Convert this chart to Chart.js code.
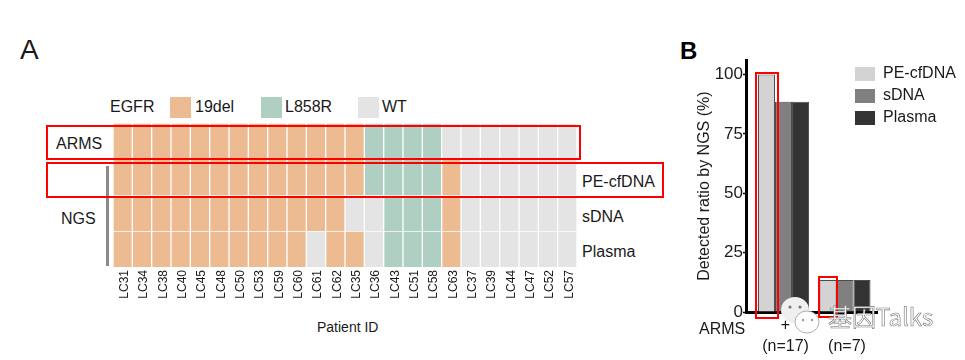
<!DOCTYPE html>
<html>
<head>
<meta charset="utf-8">
<script src="https://cdn.jsdelivr.net/npm/chart.js@4"></script>
<style>
html, body { margin: 0; padding: 0; background: #fff; overflow: hidden; }
body { position: relative; width: 965px; height: 360px; font-family: "Liberation Sans", Arial, sans-serif; color: #1a1a1a; }
canvas { position: absolute; }
#heat { left: 113px; top: 123px; }
#bars { left: 690px; top: 50px; }
.t { position: absolute; font-size: 16px; line-height: 18px; white-space: nowrap; }
.sw { position: absolute; top: 97px; width: 21px; height: 21px; }
.red { position: absolute; border: 2px solid #f00; box-sizing: border-box; }
#wm { position: absolute; left: 828px; top: 300px; font-size: 24px; line-height: 32px; color: #fff; -webkit-text-stroke: 0.6px #777; font-family: "Noto Sans CJK SC", sans-serif; white-space: nowrap; }
</style>
</head>
<body>

<div class="t" style="left:20px;top:34px;font-size:28px;line-height:32px;">A</div>
<div class="t" style="left:680px;top:38px;font-size:24px;line-height:26px;font-weight:bold;color:#000;">B</div>

<div class="t" style="left:110px;top:98px;">EGFR</div>
<div class="sw" style="left:170px;background:#ecbb92;"></div>
<div class="t" style="left:195px;top:98px;">19del</div>
<div class="sw" style="left:261px;background:#afcfc2;"></div>
<div class="t" style="left:285px;top:98px;">L858R</div>
<div class="sw" style="left:358px;background:#e4e4e4;"></div>
<div class="t" style="left:382px;top:98px;">WT</div>

<canvas id="heat" width="464" height="184"></canvas>
<canvas id="bars" width="275" height="310"></canvas>

<div class="t" style="left:56px;top:135px;">ARMS</div>
<div class="t" style="left:61px;top:210px;">NGS</div>
<div class="t" style="left:582px;top:173px;">PE-cfDNA</div>
<div class="t" style="left:582px;top:208px;">sDNA</div>
<div class="t" style="left:582px;top:243px;">Plasma</div>
<div class="t" style="left:317px;top:318px;font-size:14px;">Patient ID</div>
<div style="position:absolute;left:106px;top:166px;width:2.5px;height:100px;background:#8a8a8a;"></div>

<div class="red" style="left:46px;top:125px;width:535px;height:35px;"></div>
<div class="red" style="left:46px;top:162px;width:618px;height:36px;"></div>
<div class="red" style="left:755px;top:72px;width:24px;height:247px;"></div>
<div class="red" style="left:818px;top:276px;width:20px;height:42px;"></div>

<div class="t" style="left:699px;top:320px;">ARMS</div>

<svg style="position:absolute;left:780px;top:296px;" width="52" height="42">
  <ellipse cx="15" cy="14" rx="14" ry="13" fill="#efefef"/>
  <circle cx="10" cy="11" r="1.6" fill="#777"/>
  <circle cx="20" cy="11" r="1.6" fill="#777"/>
  <ellipse cx="27" cy="26" rx="12" ry="11" fill="#fff" stroke="#999" stroke-width="0.8"/>
  <circle cx="23" cy="24" r="1.2" fill="#999"/>
  <circle cx="32" cy="24" r="1.2" fill="#999"/>
</svg>
<div id="wm">基因Talks</div>

<script>
// panel A
const patients = ['LC31','LC34','LC38','LC40','LC45','LC48','LC50','LC53','LC59','LC60','LC61','LC62',
                  'LC35','LC36','LC43','LC51','LC58','LC63','LC37','LC39','LC44','LC47','LC52','LC57'];
const rowNames = ['Plasma','sDNA','PE-cfDNA','ARMS'];
// D = 19del, L = L858R, W = WT, one letter per patient
const armsRow   = 'DDDDDDDDDDDDDLLLLWWWWWWW'.split('');
const cfdnaRow  = 'DDDDDDDDDDDDDLLLLDWWWWWW'.split('');
const sdnaRow   = 'DDDDDDDDDDDDWWLLLDWWWWWW'.split('');
const plasmaRow = 'DDDDDDDDDDWDDWLLLDWWWWWW'.split('');
const statusColors = { D: '#ecbb92', L: '#afcfc2', W: '#e4e4e4' };

// panel B
const armsGroups = [1, 2];
const armsLabels = [['+', '(n=17)'], ['', '(n=7)']];
const cfdnaRatio  = [100, 13.5];
const sdnaRatio   = [88.5, 13.5];
const plasmaRatio = [88.5, 13.5];

Chart.defaults.font.family = '"Liberation Sans", Arial, sans-serif';
Chart.defaults.color = '#1a1a1a';

function rowDataset(name, row) {
    return {
        label: name,
        data: row.map(() => 1),
        backgroundColor: row.map(s => statusColors[s]),
        borderColor: 'rgba(255,255,255,0.15)',
        borderWidth: 1,
        barPercentage: 1,
        categoryPercentage: 1
    };
}

new Chart(document.getElementById('heat'), {
    type: 'bar',
    data: {
        labels: patients,
        datasets: [
            rowDataset(rowNames[0], plasmaRow),
            rowDataset(rowNames[1], sdnaRow),
            rowDataset(rowNames[2], cfdnaRow),
            rowDataset(rowNames[3], armsRow)
        ]
    },
    options: {
        responsive: false,
        animation: false,
        layout: { padding: 0 },
        plugins: { legend: { display: false }, tooltip: { enabled: false } },
        scales: {
            x: {
                stacked: true,
                grid: { display: false, drawTicks: false },
                border: { display: false },
                afterFit: s => { s.height = 40; s.paddingLeft = 0; s.paddingRight = 0; },
                ticks: { minRotation: 90, maxRotation: 90, autoSkip: false, padding: 3, labelOffset: 2, font: { size: 12 }, color: '#1a1a1a' }
            },
            y: { stacked: true, display: false, min: 0, max: 4 }
        }
    }
});

function ratioDataset(name, values, color) {
    return {
        label: name,
        data: values.map((v, i) => ({ x: armsGroups[i], y: v })),
        backgroundColor: color,
        borderColor: '#4d4d4d',
        borderWidth: 1,
        barPercentage: 1,
        categoryPercentage: 0.83
    };
}

// legend sits outside the plot area, so move it once the layout is done
const moveLegend = {
    id: 'moveLegend',
    afterLayout(chart) {
        const l = chart.legend;
        const w = l.right - l.left, h = l.bottom - l.top;
        l.left = 159; l.right = 159 + w;
        l.top = 10; l.bottom = 10 + h;
    }
};

new Chart(document.getElementById('bars'), {
    type: 'bar',
    plugins: [moveLegend],
    data: {
        datasets: [
            ratioDataset('PE-cfDNA', cfdnaRatio, '#d3d3d3'),
            ratioDataset('sDNA', sdnaRatio, '#808080'),
            ratioDataset('Plasma', plasmaRatio, '#333333')
        ]
    },
    options: {
        responsive: false,
        animation: false,
        layout: { padding: { top: 10, right: 88, left: 0, bottom: 0 } },
        plugins: {
            tooltip: { enabled: false },
            legend: {
                position: 'chartArea',
                align: 'start',
                labels: {
                    boxWidth: 20,
                    boxHeight: 14,
                    padding: 6,
                    font: { size: 16 },
                    color: '#1a1a1a',
                    generateLabels: chart => Chart.defaults.plugins.legend.labels.generateLabels(chart)
                        .map(item => ({ ...item, lineWidth: 0 }))
                }
            }
        },
        scales: {
            x: {
                type: 'linear',
                offset: false,
                min: 0.39,
                max: 2.52,
                afterFit: s => { s.height = 48; },
                afterBuildTicks: s => { s.ticks = armsGroups.map(v => ({ value: v })); },
                grid: { display: false, drawTicks: false },
                border: { color: '#000', width: 3 },
                ticks: {
                    padding: 3,
                    maxRotation: 0,
                    labelOffset: 2,
                    font: { size: 16, lineHeight: 1.3 },
                    color: '#1a1a1a',
                    callback: v => armsLabels[armsGroups.indexOf(v)]
                }
            },
            y: {
                min: 0,
                max: 106,
                afterFit: s => { s.width = 56; },
                grid: { drawOnChartArea: false, drawTicks: true, tickLength: 3, tickColor: '#000', tickWidth: 1.5 },
                border: { color: '#000', width: 3 },
                title: { display: true, text: 'Detected ratio by NGS (%)', font: { size: 16 }, color: '#1a1a1a', padding: { top: 5, bottom: 0 } },
                ticks: { stepSize: 25, includeBounds: false, padding: 0, font: { size: 17 }, color: '#1a1a1a' }
            }
        }
    }
});
</script>
</body>
</html>
